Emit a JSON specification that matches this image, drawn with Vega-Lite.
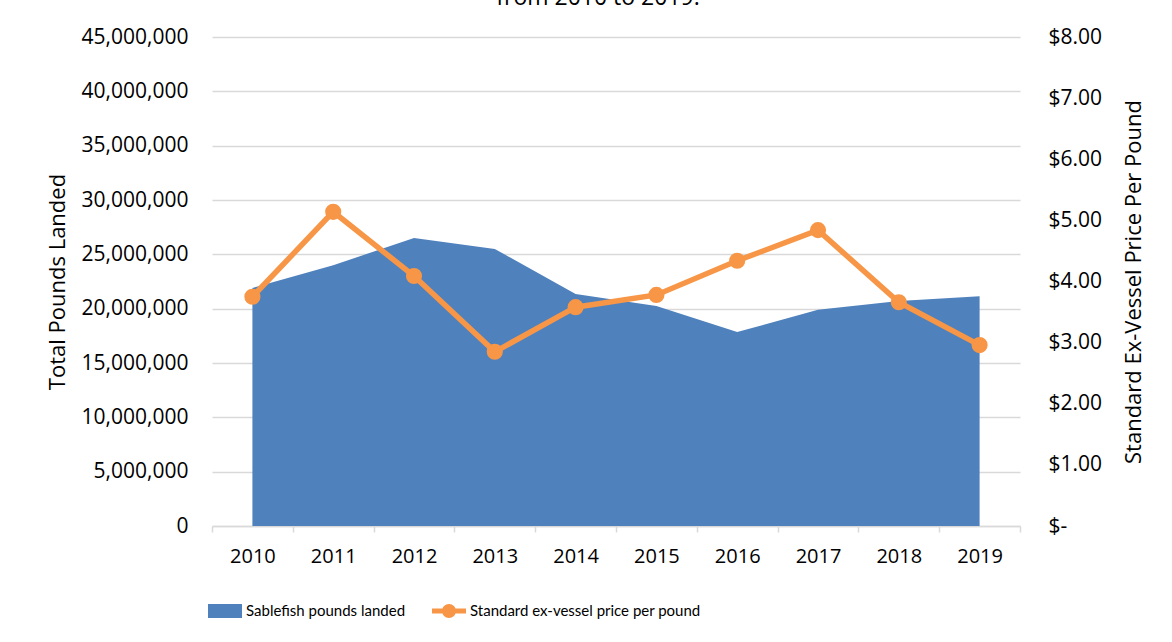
{
  "$schema": "https://vega.github.io/schema/vega-lite/v6.json",
  "autosize": "none",
  "width": 808,
  "height": 489,
  "padding": {"left": 212, "top": 37, "right": 152, "bottom": 116},
  "background": "white",
  "title": {
    "text": "from 2010 to 2019.",
    "frame": "group",
    "anchor": "middle",
    "dx": -18,
    "offset": -7,
    "baseline": "bottom",
    "font": "Open Sans",
    "fontSize": 23,
    "fontWeight": "normal",
    "color": "#000000"
  },
  "config": {
    "view": {"stroke": null},
    "font": "Open Sans"
  },
  "data": {
    "values": [
      {"year": "2010", "pounds": 21900000, "price": 3.75},
      {"year": "2011", "pounds": 24000000, "price": 5.14},
      {"year": "2012", "pounds": 26500000, "price": 4.09},
      {"year": "2013", "pounds": 25500000, "price": 2.85},
      {"year": "2014", "pounds": 21350000, "price": 3.58},
      {"year": "2015", "pounds": 20250000, "price": 3.78},
      {"year": "2016", "pounds": 17850000, "price": 4.34},
      {"year": "2017", "pounds": 19900000, "price": 4.84},
      {"year": "2018", "pounds": 20700000, "price": 3.66},
      {"year": "2019", "pounds": 21150000, "price": 2.96}
    ]
  },
  "encoding": {
    "x": {
      "field": "year",
      "type": "ordinal",
      "scale": {"type": "band", "paddingInner": 0, "paddingOuter": 0},
      "axis": {
        "title": null,
        "labelAngle": 0,
        "tickBand": "extent",
        "grid": false,
        "domainColor": "#d9d9d9",
        "domainWidth": 1.5,
        "tickColor": "#d9d9d9",
        "tickWidth": 1.5,
        "tickSize": 6,
        "labelPadding": 14,
        "labelFont": "Open Sans",
        "labelFontSize": 20,
        "labelColor": "#000000"
      }
    }
  },
  "layer": [
    {
      "mark": {"type": "area", "opacity": 1},
      "encoding": {
        "y": {
          "field": "pounds",
          "type": "quantitative",
          "scale": {"domain": [0, 45000000], "nice": false},
          "axis": {
            "title": "Total Pounds Landed",
            "titleFont": "Open Sans",
            "titleFontSize": 22,
            "titleFontWeight": "normal",
            "titleColor": "#000000",
            "titlePadding": 12,
            "values": [0, 5000000, 10000000, 15000000, 20000000, 25000000, 30000000, 35000000, 40000000, 45000000],
            "format": ",d",
            "labelFont": "Open Sans",
            "labelFontSize": 21,
            "labelColor": "#000000",
            "labelPadding": 24,
            "ticks": false,
            "domain": false,
            "grid": true,
            "gridColor": "#d9d9d9",
            "gridWidth": 1.5
          }
        },
        "fill": {
          "datum": "Sablefish pounds landed",
          "type": "nominal",
          "scale": {"domain": ["Sablefish pounds landed"], "range": ["#4F81BD"]},
          "legend": {
            "title": null,
            "orient": "none",
            "legendX": -4,
            "legendY": 557,
            "symbolType": "M-1,-0.41H1V0.41H-1Z",
            "symbolSize": 1156,
            "symbolStrokeWidth": 0,
            "symbolOpacity": 1,
            "labelFont": "Lato",
            "labelFontSize": 15,
            "labelColor": "#000000",
            "labelOffset": 4,
            "labelLimit": 0
          }
        }
      }
    },
    {
      "mark": {"type": "line", "strokeWidth": 5.5, "point": {"filled": true, "size": 200, "color": "#F79646", "opacity": 1}},
      "encoding": {
        "y": {
          "field": "price",
          "type": "quantitative",
          "scale": {"domain": [0, 8], "nice": false},
          "axis": {
            "orient": "right",
            "title": "Standard Ex-Vessel Price Per Pound",
            "titleAngle": 270,
            "titleFont": "Open Sans",
            "titleFontSize": 22,
            "titleFontWeight": "normal",
            "titleColor": "#000000",
            "titlePadding": 44,
            "values": [0, 1, 2, 3, 4, 5, 6, 7, 8],
            "labelExpr": "datum.value == 0 ? '$-' : format(datum.value, '$.2f')",
            "labelFont": "Open Sans",
            "labelFontSize": 21,
            "labelColor": "#000000",
            "labelPadding": 28,
            "ticks": false,
            "domain": false,
            "grid": false
          }
        },
        "stroke": {
          "datum": "Standard ex-vessel price per pound",
          "type": "nominal",
          "scale": {"domain": ["Standard ex-vessel price per pound"], "range": ["#F79646"]},
          "legend": {
            "title": null,
            "orient": "none",
            "legendX": 220,
            "legendY": 557,
            "symbolType": "M-1,-0.14H1V0.14H-1Z M-0.41,0A0.41,0.41 0 1,1 0.41,0A0.41,0.41 0 1,1 -0.41,0Z",
            "symbolSize": 1156,
            "symbolFillColor": "#F79646",
            "symbolStrokeWidth": 0,
            "symbolOpacity": 1,
            "labelFont": "Lato",
            "labelFontSize": 15,
            "labelColor": "#000000",
            "labelOffset": 4,
            "labelLimit": 0
          }
        }
      }
    }
  ],
  "resolve": {"scale": {"y": "independent"}}
}
